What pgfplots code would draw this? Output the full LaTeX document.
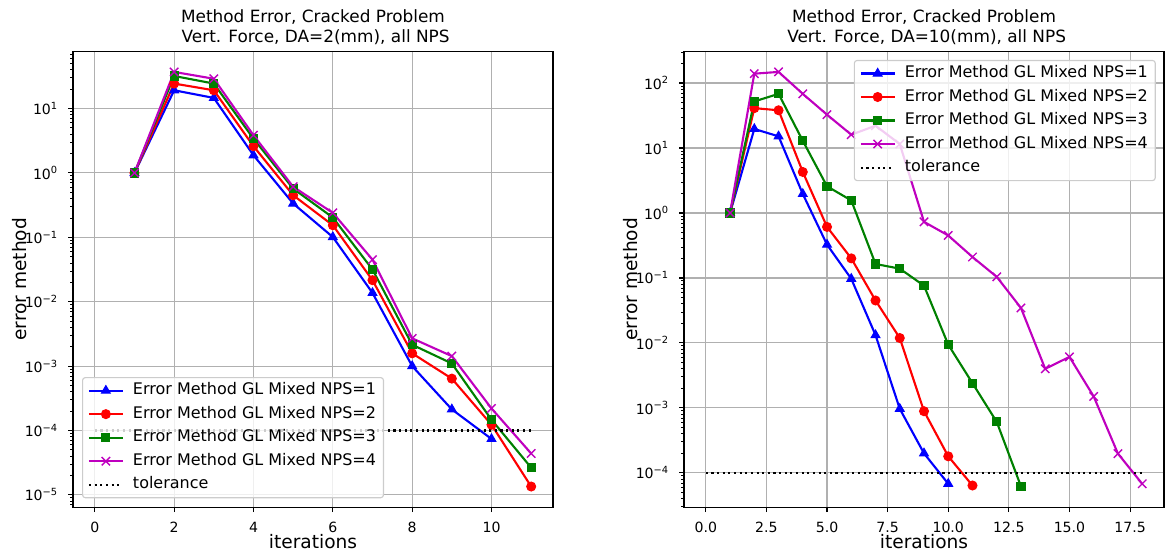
\documentclass[border=0pt]{standalone}
\usepackage{fontspec}
\setmainfont{DejaVu Sans}
\usepackage{pgfplots}
\pgfplotsset{compat=1.18}

\definecolor{mplb}{rgb}{0,0,1}
\definecolor{mplr}{rgb}{1,0,0}
\definecolor{mplg}{rgb}{0,0.5,0}
\definecolor{mplm}{rgb}{0.75,0,0.75}
\definecolor{gridgray}{HTML}{B0B0B0}
\definecolor{legframe}{HTML}{CCCCCC}

% minor ticks of the log axes: 2..9 in every decade
\def\minorlist{1e-7}%
\foreach \e in {-7,...,2}{\foreach \m in {2,...,9}{\xdef\minorlist{\minorlist,\m e\e}}}%

% one image pixel = 0.71pt
\pgfplotsset{
  scale only axis, width=340.8pt, height=323.8pt,
  axis line style={line width=0.8pt, black},
  grid=major, major grid style={gridgray, line width=0.8pt},
  tick align=outside, tick pos=left,
  major tick length=3.5pt, minor tick length=2pt,
  tick style={black, line width=0.8pt},
  minor tick style={black, line width=0.6pt},
  tick label style={font=\fontsize{10}{12}\selectfont},
  xticklabel style={inner sep=0pt, anchor=north, yshift=-6.8pt},
  yticklabel style={inner sep=0pt, anchor=east, xshift=-7pt},
  every axis x label/.style={at={(axis description cs:0.5,-0.0746)}, anchor=center,
    font=\fontsize{13.2}{15.8}\selectfont},
  every axis y label/.style={at={(axis description cs:-0.1104,0.5)}, rotate=90, anchor=center,
    font=\fontsize{13.2}{15.8}\selectfont},
  every axis title/.style={at={(axis description cs:0.5,1)}, anchor=south, align=center,
    inner sep=0pt, yshift=4.5pt, font=\fontsize{12}{14.4}\selectfont},
  legend cell align=left,
  legend style={draw=legframe, line width=0.8pt, rounded corners=2pt, fill=white,
    fill opacity=0.8, text opacity=1, font=\fontsize{11.35}{13.6}\selectfont,
    inner xsep=3.8pt, inner ysep=2.4pt, row sep=3pt, column sep=5pt,
    nodes={inner sep=1.5pt, text height=8.3pt, text depth=2.4pt}},
  legend image code/.code={\draw[fill opacity=1, mark repeat=2, mark phase=2]
    plot coordinates {(0pt,0pt) (12pt,0pt) (24pt,0pt)};},
  s1/.style={mplb, line width=1.5pt, mark=triangle*, mark size=3.6pt, mark options={solid, line width=0.7pt}},
  s2/.style={mplr, line width=1.5pt, mark=*, mark size=3.2pt, mark options={solid, line width=0.7pt}},
  s3/.style={mplg, line width=1.5pt, mark=square*, mark size=2.9pt, mark options={solid, line width=0.7pt}},
  s4/.style={mplm, line width=1.5pt, mark=x, mark size=4.2pt, mark options={solid, line width=1pt}},
  tol/.style={black, line width=1.5pt, dash pattern=on 1.5pt off 2.5pt},
}

\begin{document}
\begin{tikzpicture}
\useasboundingbox (0,0) rectangle (827.15pt,395.47pt);

\begin{axis}[
  ymode=log,
  at={(51.83pt,35.3pt)}, anchor=south west,
  xlabel={iterations}, ylabel={error method},
  title={Method Error, Cracked Problem\\\mbox{ }Vert. Force, DA=2(mm), all NPS},
  xmin=-0.55, xmax=11.55, ymin=6.43e-6, ymax=77.6,
  xtick={0,2,4,6,8,10}, xticklabels={0,2,4,6,8,10},
  ytick={1e-5,1e-4,1e-3,1e-2,1e-1,1,10},
  yticklabels={10\textsuperscript{−5},10\textsuperscript{−4},10\textsuperscript{−3},10\textsuperscript{−2},10\textsuperscript{−1},10\textsuperscript{0},10\textsuperscript{1}},
  minor ytick/.expand once=\minorlist,
  legend style={at={(axis description cs:0.01875,0.0197)}, anchor=south west},
]
\addplot[s1] coordinates {(1,1) (2,19.2) (3,14.6) (4,1.88) (5,0.335) (6,0.101) (7,0.0137) (8,1.0e-3) (9,2.13e-4) (10,7.4e-5)};
\addlegendentry{Error Method GL Mixed NPS=1}
\addplot[s2] coordinates {(1,1) (2,24.4) (3,19.2) (4,2.6) (5,0.45) (6,0.154) (7,0.0216) (8,1.58e-3) (9,6.4e-4) (10,1.23e-4) (11,1.35e-5)};
\addlegendentry{Error Method GL Mixed NPS=2}
\addplot[s3] coordinates {(1,1) (2,32) (3,24.4) (4,3.4) (5,0.57) (6,0.203) (7,0.0316) (8,2.15e-3) (9,1.1e-3) (10,1.47e-4) (11,2.65e-5)};
\addlegendentry{Error Method GL Mixed NPS=3}
\addplot[s4] coordinates {(1,1) (2,37) (3,29) (4,3.85) (5,0.61) (6,0.24) (7,0.045) (8,2.7e-3) (9,1.43e-3) (10,2.2e-4) (11,4.4e-5)};
\addlegendentry{Error Method GL Mixed NPS=4}
\addplot[tol] coordinates {(0,1e-4) (11,1e-4)};
\addlegendentry{tolerance}
\end{axis}

\begin{axis}[
  ymode=log,
  at={(485.64pt,35.3pt)}, anchor=south west,
  xlabel={iterations}, ylabel={error method},
  title={Method Error, Cracked Problem\\\mbox{ }Vert. Force, DA=10(mm), all NPS},
  xmin=-0.9, xmax=18.9, ymin=2.96e-5, ymax=308,
  xtick={0,2.5,5,7.5,10,12.5,15,17.5},
  xticklabels={0.0,2.5,5.0,7.5,10.0,12.5,15.0,17.5},
  ytick={1e-4,1e-3,1e-2,1e-1,1,10,100},
  yticklabels={10\textsuperscript{−4},10\textsuperscript{−3},10\textsuperscript{−2},10\textsuperscript{−1},10\textsuperscript{0},10\textsuperscript{1},10\textsuperscript{2}},
  minor ytick/.expand once=\minorlist,
  legend style={at={(axis description cs:0.983,0.981)}, anchor=north east},
]
\addplot[s1] coordinates {(1,1) (2,19.6) (3,15.1) (4,1.96) (5,0.325) (6,0.097) (7,0.0132) (8,9.7e-4) (9,2.0e-4) (10,6.8e-5)};
\addlegendentry{Error Method GL Mixed NPS=1}
\addplot[s2] coordinates {(1,1) (2,41) (3,38) (4,4.27) (5,0.61) (6,0.20) (7,0.045) (8,0.0119) (9,8.9e-4) (10,1.8e-4) (11,6.4e-5)};
\addlegendentry{Error Method GL Mixed NPS=2}
\addplot[s3] coordinates {(1,1) (2,52) (3,68) (4,12.9) (5,2.57) (6,1.56) (7,0.164) (8,0.139) (9,0.076) (10,0.0094) (11,2.4e-3) (12,6.1e-4) (13,6.2e-5)};
\addlegendentry{Error Method GL Mixed NPS=3}
\addplot[s4] coordinates {(1,1) (2,139) (3,148) (4,68) (5,32.5) (6,16) (7,22) (8,11.5) (9,0.73) (10,0.45) (11,0.21) (12,0.104) (13,0.0345) (14,0.004) (15,0.0061) (16,0.0015) (17,1.98e-4) (18,6.8e-5)};
\addlegendentry{Error Method GL Mixed NPS=4}
\addplot[tol] coordinates {(0,1e-4) (18,1e-4)};
\addlegendentry{tolerance}
\end{axis}
\end{tikzpicture}
\end{document}
